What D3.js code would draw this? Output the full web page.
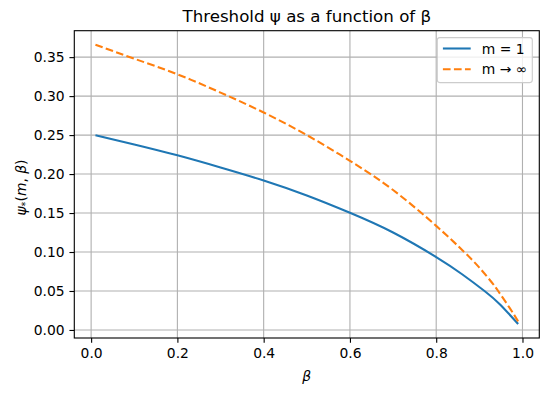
<!DOCTYPE html>
<html>
<head>
<meta charset="utf-8">
<script src="https://cdn.jsdelivr.net/npm/d3@7"></script>
<style>
  html, body { margin: 0; padding: 0; background: #fff; }
  svg { display: block; font-family: "DejaVu Sans", sans-serif; }
</style>
</head>
<body>
<svg id="chart" width="549" height="395"></svg>
<script>
// ---- data ----
const betaM1   = [0.01, 0.10, 0.20, 0.30, 0.40, 0.50, 0.60, 0.70, 0.80, 0.86, 0.912, 0.948, 0.99];
const psiM1    = [0.2497, 0.238, 0.224, 0.2084, 0.1917, 0.1725, 0.1503, 0.125, 0.0935, 0.0715, 0.050, 0.0327, 0.0076];
const betaInf  = [0.01, 0.10, 0.20, 0.30, 0.40, 0.50, 0.60, 0.70, 0.80, 0.865, 0.90, 0.929, 0.944, 0.971, 0.99];
const psiInf   = [0.366, 0.348, 0.328, 0.3045, 0.279, 0.250, 0.217, 0.1795, 0.1335, 0.100, 0.080, 0.0609, 0.0497, 0.0276, 0.0109];
const xTicks   = [0.0, 0.2, 0.4, 0.6, 0.8, 1.0];
const yTicks   = [0.00, 0.05, 0.10, 0.15, 0.20, 0.25, 0.30, 0.35];
const seriesNames = ["m = 1", "m \u2192 \u221e"];
const seriesColors = ["#1f77b4", "#ff7f0e"];
const titleText = "Threshold \u03c8 as a function of \u03b2";

// ---- layout ----
const svg = d3.select("#chart");
const L = 74.3, R = 539.3, T = 30.7, B = 338;
const FS = 13.89;
const LW = 2.08, GW = 1.11;
const DASH = "7.7,3.33";

const allX = betaM1.concat(betaInf), allY = psiM1.concat(psiInf);
const xe = d3.extent(allX), ye = d3.extent(allY);
const xm = (xe[1] - xe[0]) * 0.05, ym = (ye[1] - ye[0]) * 0.05;
const x = d3.scaleLinear().domain([xe[0] - xm, xe[1] + xm]).range([L, R]);
const y = d3.scaleLinear().domain([ye[0] - ym, ye[1] + ym]).range([B, T]);

// grid
const g = svg.append("g");
g.selectAll(".gx").data(xTicks).enter().append("line")
  .attr("x1", d => x(d)).attr("x2", d => x(d)).attr("y1", T).attr("y2", B)
  .attr("stroke", "#b0b0b0").attr("stroke-width", GW);
g.selectAll(".gy").data(yTicks).enter().append("line")
  .attr("y1", d => y(d)).attr("y2", d => y(d)).attr("x1", L).attr("x2", R)
  .attr("stroke", "#b0b0b0").attr("stroke-width", GW);

// lines
const line = d3.line().x(d => x(d[0])).y(d => y(d[1])).curve(d3.curveNatural);
svg.append("clipPath").attr("id", "clp").append("rect")
  .attr("x", L).attr("y", T).attr("width", R - L).attr("height", B - T);
svg.append("path").datum(d3.zip(betaM1, psiM1)).attr("d", line)
  .attr("fill", "none").attr("stroke", seriesColors[0]).attr("stroke-width", LW)
  .attr("clip-path", "url(#clp)");
svg.append("path").datum(d3.zip(betaInf, psiInf)).attr("d", line)
  .attr("fill", "none").attr("stroke", seriesColors[1]).attr("stroke-width", LW)
  .attr("stroke-dasharray", DASH)
  .attr("clip-path", "url(#clp)");

// axes
const xAxis = d3.axisBottom(x).tickValues(xTicks).tickFormat(d3.format(".1f"))
  .tickSize(4.86).tickPadding(4.86).tickSizeOuter(0);
const yAxis = d3.axisLeft(y).tickValues(yTicks).tickFormat(d3.format(".2f"))
  .tickSize(4.86).tickPadding(4.86).tickSizeOuter(0);
const gx = svg.append("g").attr("transform", `translate(0,${B})`).call(xAxis);
const gy = svg.append("g").attr("transform", `translate(${L},0)`).call(yAxis);
[gx, gy].forEach(a => {
  a.select(".domain").remove();
  a.selectAll("line").attr("stroke", "#000").attr("stroke-width", GW);
  a.selectAll("text").attr("font-size", FS).attr("fill", "#000")
    .attr("font-family", "DejaVu Sans, sans-serif");
});

// frame
svg.append("rect").attr("x", L).attr("y", T).attr("width", R - L).attr("height", B - T)
  .attr("fill", "none").attr("stroke", "#000").attr("stroke-width", GW);

// title
svg.append("text").attr("x", (L + R) / 2).attr("y", 22).attr("text-anchor", "middle")
  .attr("font-size", 16.67).attr("fill", "#000").text(titleText);

// x label
svg.append("text").attr("x", (L + R) / 2).attr("y", 381).attr("text-anchor", "middle")
  .attr("font-size", FS).attr("font-style", "italic").attr("fill", "#000").text("\u03b2");

// y label
const yl = svg.append("text").attr("transform", `translate(25.5,187.5) rotate(-90)`)
  .attr("text-anchor", "middle").attr("font-size", FS).attr("fill", "#000");
yl.append("tspan").attr("font-style", "italic").text("\u03c8");
yl.append("tspan").attr("font-size", FS * 0.7).attr("dy", 3).text("*");
yl.append("tspan").attr("dy", -3).text("(");
yl.append("tspan").attr("font-style", "italic").text("m");
yl.append("tspan").text(", ");
yl.append("tspan").attr("font-style", "italic").text("\u03b2");
yl.append("tspan").text(")");

// legend
const lg = svg.append("g");
const lx = 437.3, ly = 37.6, lw = 95, lh = 45;
lg.append("rect").attr("x", lx).attr("y", ly).attr("width", lw).attr("height", lh)
  .attr("rx", 2.5).attr("fill", "#fff").attr("fill-opacity", 0.8)
  .attr("stroke", "#cccccc").attr("stroke-width", GW);
seriesNames.forEach((name, i) => {
  const cy = 48.5 + i * 20.8;
  lg.append("line").attr("x1", lx + 5.6).attr("x2", lx + 5.6 + 27.8)
    .attr("y1", cy).attr("y2", cy).attr("stroke", seriesColors[i]).attr("stroke-width", LW)
    .attr("stroke-dasharray", i === 1 ? DASH : null);
  lg.append("text").attr("x", lx + 5.6 + 27.8 + 11.1).attr("y", cy + 5)
    .attr("font-size", FS).attr("fill", "#000").text(name);
});
</script>
</body>
</html>
